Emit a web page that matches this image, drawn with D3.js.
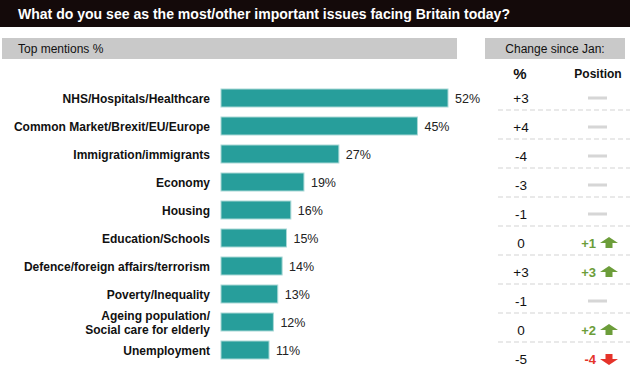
<!DOCTYPE html>
<html>
<head>
<meta charset="utf-8">
<title>Important issues facing Britain</title>
<script src="https://d3js.org/d3.v7.min.js"></script>
<style>
  body { margin: 0; background: #fff; }
  svg text { font-family: "Liberation Sans", Arial, sans-serif; }
</style>
</head>
<body>
<script>
// chart data
var categories = [
  "NHS/Hospitals/Healthcare",
  "Common Market/Brexit/EU/Europe",
  "Immigration/immigrants",
  "Economy",
  "Housing",
  "Education/Schools",
  "Defence/foreign affairs/terrorism",
  "Poverty/Inequality",
  "Ageing population/\nSocial care for elderly",
  "Unemployment"
];
var values = [52, 45, 27, 19, 16, 15, 14, 13, 12, 11];
var changePct = ["+3", "+4", "-4", "-3", "-1", "0", "+3", "-1", "0", "-5"];
var positionChange = [0, 0, 0, 0, 0, 1, 3, 0, 2, -4];

var width = 630, height = 370;

var svg = d3.select("body").append("svg")
  .attr("width", width)
  .attr("height", height);

// title bar
svg.append("rect").attr("x", 0).attr("y", 0).attr("width", 630).attr("height", 27).attr("fill", "#140a0a");
svg.append("text")
  .attr("x", 18).attr("y", 19)
  .attr("fill", "#fff")
  .attr("font-size", 15).attr("font-weight", "bold")
  .attr("textLength", 492).attr("lengthAdjust", "spacingAndGlyphs")
  .text("What do you see as the most/other important issues facing Britain today?");

// grey header boxes
svg.append("rect").attr("x", 2).attr("y", 38).attr("width", 455).attr("height", 21).attr("fill", "#c9c9c9");
svg.append("text").attr("x", 18).attr("y", 53).attr("font-size", 12).attr("fill", "#111").text("Top mentions %");

svg.append("rect").attr("x", 485).attr("y", 38).attr("width", 140).attr("height", 21).attr("fill", "#c9c9c9");
svg.append("text").attr("x", 555).attr("y", 53).attr("font-size", 12).attr("fill", "#111")
  .attr("text-anchor", "middle").text("Change since Jan:");

svg.append("text").attr("x", 520).attr("y", 79).attr("font-size", 15).attr("font-weight", "bold")
  .attr("text-anchor", "middle").attr("fill", "#111").text("%");
svg.append("text").attr("x", 598).attr("y", 78).attr("font-size", 12).attr("font-weight", "bold")
  .attr("text-anchor", "middle").attr("fill", "#111").text("Position");

// scales
var x = d3.scaleLinear().domain([0, 52]).range([221, 448]);
var y = d3.scaleBand().domain(categories).range([84, 364])
  .paddingInner(10 / 28).paddingOuter(5 / 28);
var yr = d3.scalePoint().domain(categories).range([98, 359]);

// bars
var rows = svg.append("g").selectAll("g")
  .data(categories)
  .enter().append("g");

rows.append("rect")
  .attr("x", x(0))
  .attr("y", d => y(d))
  .attr("width", (d, i) => x(values[i]) - x(0))
  .attr("height", y.bandwidth())
  .attr("fill", "#279e9b")
  .attr("stroke", "#a9d8d6")
  .attr("stroke-width", 1);

rows.append("text")
  .attr("x", (d, i) => x(values[i]) + 7)
  .attr("y", d => y(d) + y.bandwidth() / 2 + 4.5)
  .attr("font-size", 12.5)
  .attr("fill", "#222")
  .text((d, i) => values[i] + "%");

// category labels (some wrap onto two lines)
rows.append("text")
  .attr("text-anchor", "end")
  .attr("font-size", 12)
  .attr("font-weight", "bold")
  .attr("fill", "#111")
  .each(function (d) {
    var lines = d.split("\n");
    var cy = y(d) + y.bandwidth() / 2;
    var t = d3.select(this);
    lines.forEach(function (l, k) {
      t.append("tspan")
        .attr("x", 210)
        .attr("y", cy + 4.5 + (k - (lines.length - 1) / 2) * 14)
        .text(l);
    });
  });

// right table
var right = svg.append("g").selectAll("g")
  .data(categories)
  .enter().append("g");

right.append("text")
  .attr("x", 521)
  .attr("y", d => yr(d) + 5)
  .attr("text-anchor", "middle")
  .attr("font-size", 13.5)
  .attr("fill", "#111")
  .text((d, i) => changePct[i]);

right.filter((d, i) => i < categories.length - 1)
  .append("line")
  .attr("x1", 498).attr("x2", 630)
  .attr("y1", d => yr(d) + 12).attr("y2", d => yr(d) + 12)
  .attr("stroke", "#d4d4d4")
  .attr("stroke-width", 1.2)
  .attr("stroke-dasharray", "5,3");

right.filter((d, i) => positionChange[i] === 0)
  .append("rect")
  .attr("x", 588).attr("width", 19)
  .attr("y", d => yr(d) - 1.5).attr("height", 3)
  .attr("fill", "#d6d6d6");

var moved = right.filter((d, i) => positionChange[i] !== 0);
var posColor = v => v > 0 ? "#6c9d3a" : "#e5332a";

moved.append("text")
  .attr("x", 596)
  .attr("y", d => yr(d) + 5)
  .attr("text-anchor", "end")
  .attr("font-size", 13)
  .attr("font-weight", "bold")
  .attr("fill", d => posColor(positionChange[categories.indexOf(d)]))
  .text(d => {
    var v = positionChange[categories.indexOf(d)];
    return (v > 0 ? "+" : "") + v;
  });

// arrows: up arrow for rises, down arrow for falls
moved.append("path")
  .attr("transform", d => {
    var v = positionChange[categories.indexOf(d)];
    return "translate(609," + yr(d) + ")" + (v < 0 ? " scale(1,-1)" : "");
  })
  .attr("d", "M-9,0 L0,-6 L9,0 L3.5,0 L3.5,5 L-3.5,5 L-3.5,0 Z")
  .attr("fill", d => posColor(positionChange[categories.indexOf(d)]));
</script>
</body>
</html>
